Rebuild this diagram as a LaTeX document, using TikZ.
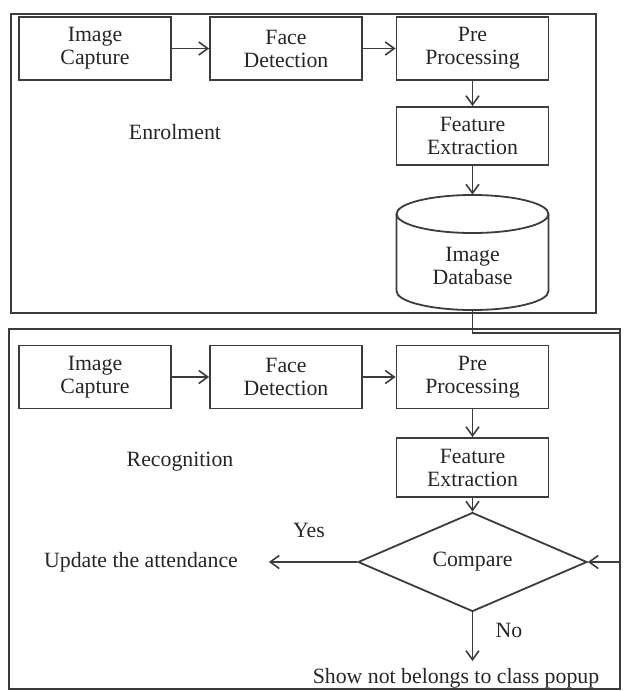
\documentclass[tikz,border=0pt]{standalone}
\usepackage{fontspec}
\setmainfont{Liberation Serif}
\usetikzlibrary{arrows.meta,shapes.geometric}
\definecolor{lc}{HTML}{3C3C3C}
\definecolor{tc}{HTML}{262626}
\begin{document}
\begin{tikzpicture}[x=0.5pt,y=-0.5pt,
  every node/.style={text=tc, font=\fontsize{10.9}{11.5}\selectfont},
  stepbox/.style={draw=lc, line width=0.9pt, minimum width=76pt, minimum height=31.5pt, align=center, inner sep=0pt},
  frame/.style={draw=lc, line width=0.9pt, inner sep=0pt},
  arr/.style={draw=lc, line width=0.8pt, -{Straight Barb[length=4.5pt,width=6.5pt]}},
  ln/.style={draw=lc, line width=0.8pt}]
\useasboundingbox (0,0) rectangle (624,691);
% frames
\node[frame, minimum width=292.5pt, minimum height=149.5pt] (enr) at (303.5,163.5) {};
\node[frame, minimum width=305.5pt, minimum height=180pt] (rec) at (314.5,509) {};
% enrolment
\node[stepbox] (ic1) at (95,48.5) {Image\\Capture};
\node[stepbox] (fd1) at (286,48.5) {Face\\Detection};
\node[stepbox] (pp1) at (472.5,48.5) {Pre\\Processing};
\node[stepbox, minimum height=29pt] (fe1) at (472.5,136) {Feature\\Extraction};
\node (enrl) at (175,132) {Enrolment};
% database cylinder
\node[minimum width=76pt, minimum height=57.5pt, inner sep=0pt] (db) at (472.5,252.5) {};
\draw[ln, line width=0.9pt] (396.5,214) -- (396.5,291) arc[start angle=180, end angle=360, x radius=38pt, y radius=9.5pt] -- (548.5,214);
\draw[ln, line width=0.9pt] (472.5,214) ellipse[x radius=38pt, y radius=9.5pt];
\node[align=center] (dbt) at (472.5,266) {Image\\Database};
% recognition
\node[stepbox] (ic2) at (95,377) {Image\\Capture};
\node[stepbox] (fd2) at (286,377) {Face\\Detection};
\node[stepbox] (pp2) at (472.5,377) {Pre\\Processing};
\node[stepbox, minimum height=29.5pt] (fe2) at (472.5,467.5) {Feature\\Extraction};
\node (recl) at (180,462) {Recognition};
\node[draw=lc, line width=0.9pt, shape=diamond, inner sep=0pt, minimum width=114.5pt, minimum height=37.5pt] (cmp) at (472.5,562) {Compare};
\node (upd) at (141,562) {Update the attendance};
\node (show) at (456,678) {Show not belongs to class popup};
\node (yes) at (309,530) {Yes};
\node (no) at (509,630) {No};
\coordinate (c1) at (620,333);
% connectors
\draw[arr] (ic1) -- (fd1);
\draw[arr] (fd1) -- (pp1);
\draw[arr] (pp1) -- (fe1);
\draw[arr] (fe1) -- (db);
\draw[arr] (ic2) -- (fd2);
\draw[arr] (fd2) -- (pp2);
\draw[arr] (pp2) -- (fe2);
\draw[arr] (fe2) -- (cmp);
\draw[arr] (db.south) |- (c1) |- (cmp.east);
\draw[arr, shorten >=12pt] (cmp.west) -- (upd.east);
\draw[arr] (cmp.south) -- (cmp.south |- show.north);
\end{tikzpicture}
\end{document}
